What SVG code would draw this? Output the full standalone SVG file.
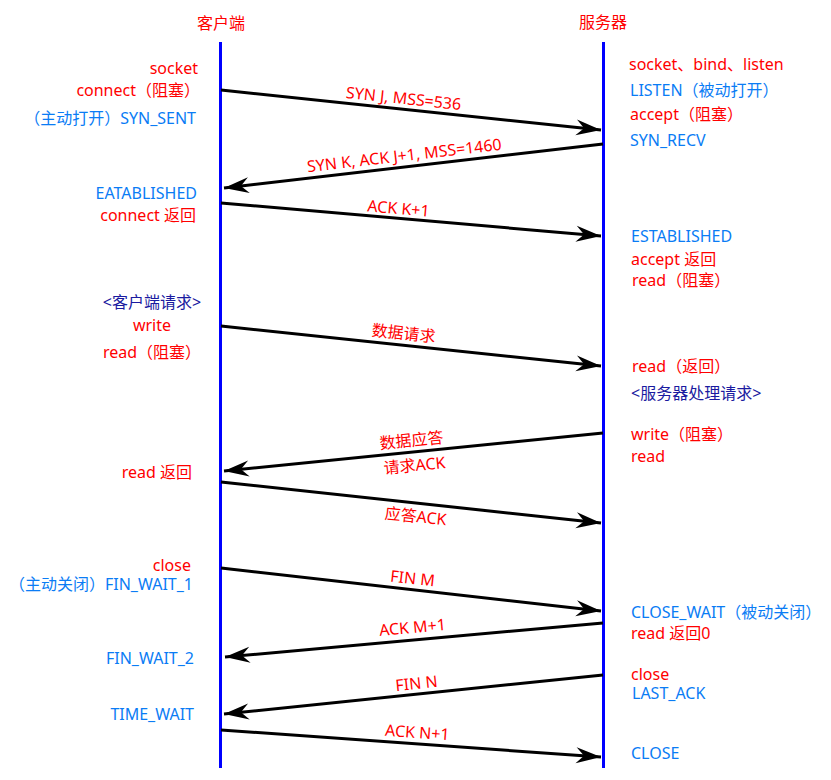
<svg xmlns="http://www.w3.org/2000/svg" width="831" height="780" viewBox="0 0 831 780">
<defs>
<marker id="ah" markerUnits="userSpaceOnUse" markerWidth="30" markerHeight="20" viewBox="-26 -10 28 20" refX="0" refY="0" orient="auto">
<path d="M0,0 L-25,-8 L-17,0 L-25,8 Z" fill="#000"/>
</marker>
<style>
text{font-family:"Noto Sans","Noto Sans CJK SC",sans-serif;font-size:16px}
.r{fill:#ff0000}.b{fill:#0a7cf5}.d{fill:#1a1aa0}
.e{text-anchor:end}.m{text-anchor:middle}
.life{stroke:#0000ff;stroke-width:3}
.msg{stroke:#000;stroke-width:3;fill:none;marker-end:url(#ah)}
</style>
</defs>
<rect width="831" height="780" fill="#fff"/>
<g id="client">
<line class="life" x1="220.5" y1="42" x2="220.5" y2="768"/>
<text class="r m" x="221" y="29">客户端</text>
</g>
<g id="server">
<line class="life" x1="603.5" y1="42" x2="603.5" y2="768"/>
<text class="r m" x="603" y="28">服务器</text>
</g>
<g id="client-notes">
<text class="r e" x="198" y="74">socket</text>
<text class="r e" x="200" y="96">connect（阻塞）</text>
<text class="b e" x="196" y="124">（主动打开）SYN_SENT</text>
<text class="b e" x="197" y="199">EATABLISHED</text>
<text class="r e" x="196" y="221">connect 返回</text>
<text class="d m" x="152" y="308">&lt;客户端请求&gt;</text>
<text class="r m" x="152" y="331">write</text>
<text class="r m" x="152" y="358">read（阻塞）</text>
<text class="r e" x="192" y="478">read 返回</text>
<text class="r e" x="191" y="571">close</text>
<text class="b e" x="193" y="590">（主动关闭）FIN_WAIT_1</text>
<text class="b e" x="194" y="664">FIN_WAIT_2</text>
<text class="b e" x="194" y="720">TIME_WAIT</text>
</g>
<g id="server-notes">
<text class="r" x="629" y="70">socket、bind、listen</text>
<text class="b" x="630" y="96">LISTEN（被动打开）</text>
<text class="r" x="630" y="120">accept（阻塞）</text>
<text class="b" x="630" y="146">SYN_RECV</text>
<text class="b" x="631" y="242">ESTABLISHED</text>
<text class="r" x="631" y="265">accept 返回</text>
<text class="r" x="632" y="286">read（阻塞）</text>
<text class="r" x="632" y="372">read（返回）</text>
<text class="d" x="631" y="399">&lt;服务器处理请求&gt;</text>
<text class="r" x="631" y="440">write（阻塞）</text>
<text class="r" x="631" y="462">read</text>
<text class="b" x="631" y="618">CLOSE_WAIT（被动关闭）</text>
<text class="r" x="631" y="639">read 返回0</text>
<text class="r" x="631" y="680">close</text>
<text class="b" x="632" y="699">LAST_ACK</text>
<text class="b" x="631" y="759">CLOSE</text>
</g>
<g id="connectors">
<line class="msg" x1="221" y1="90" x2="601" y2="130"/>
<line class="msg" x1="603" y1="144" x2="224" y2="188"/>
<line class="msg" x1="221" y1="203" x2="601" y2="236"/>
<line class="msg" x1="221" y1="326" x2="601" y2="366"/>
<line class="msg" x1="603" y1="433" x2="224" y2="471"/>
<line class="msg" x1="221" y1="482" x2="601" y2="523"/>
<line class="msg" x1="221" y1="568" x2="601" y2="611"/>
<line class="msg" x1="603" y1="623" x2="225" y2="657"/>
<line class="msg" x1="603" y1="675" x2="224" y2="714"/>
<line class="msg" x1="221" y1="730" x2="601" y2="757"/>
<text class="r m" transform="translate(403,104) rotate(6)">SYN J, MSS=536</text>
<text class="r m" transform="translate(405,161) rotate(-6.6)">SYN K, ACK J+1, MSS=1460</text>
<text class="r m" transform="translate(398,214) rotate(5)">ACK K+1</text>
<text class="r m" transform="translate(403,339) rotate(6)">数据请求</text>
<text class="r m" transform="translate(412,446) rotate(-5.7)">数据应答</text>
<text class="r m" transform="translate(415,471) rotate(-5.7)">请求ACK</text>
<text class="r m" transform="translate(415,522) rotate(6)">应答ACK</text>
<text class="r m" transform="translate(412,584) rotate(6.4)">FIN M</text>
<text class="r m" transform="translate(413,633) rotate(-5.1)">ACK M+1</text>
<text class="r m" transform="translate(417,689) rotate(-5.9)">FIN N</text>
<text class="r m" transform="translate(417,738) rotate(4)">ACK N+1</text>
</g>
</svg>
